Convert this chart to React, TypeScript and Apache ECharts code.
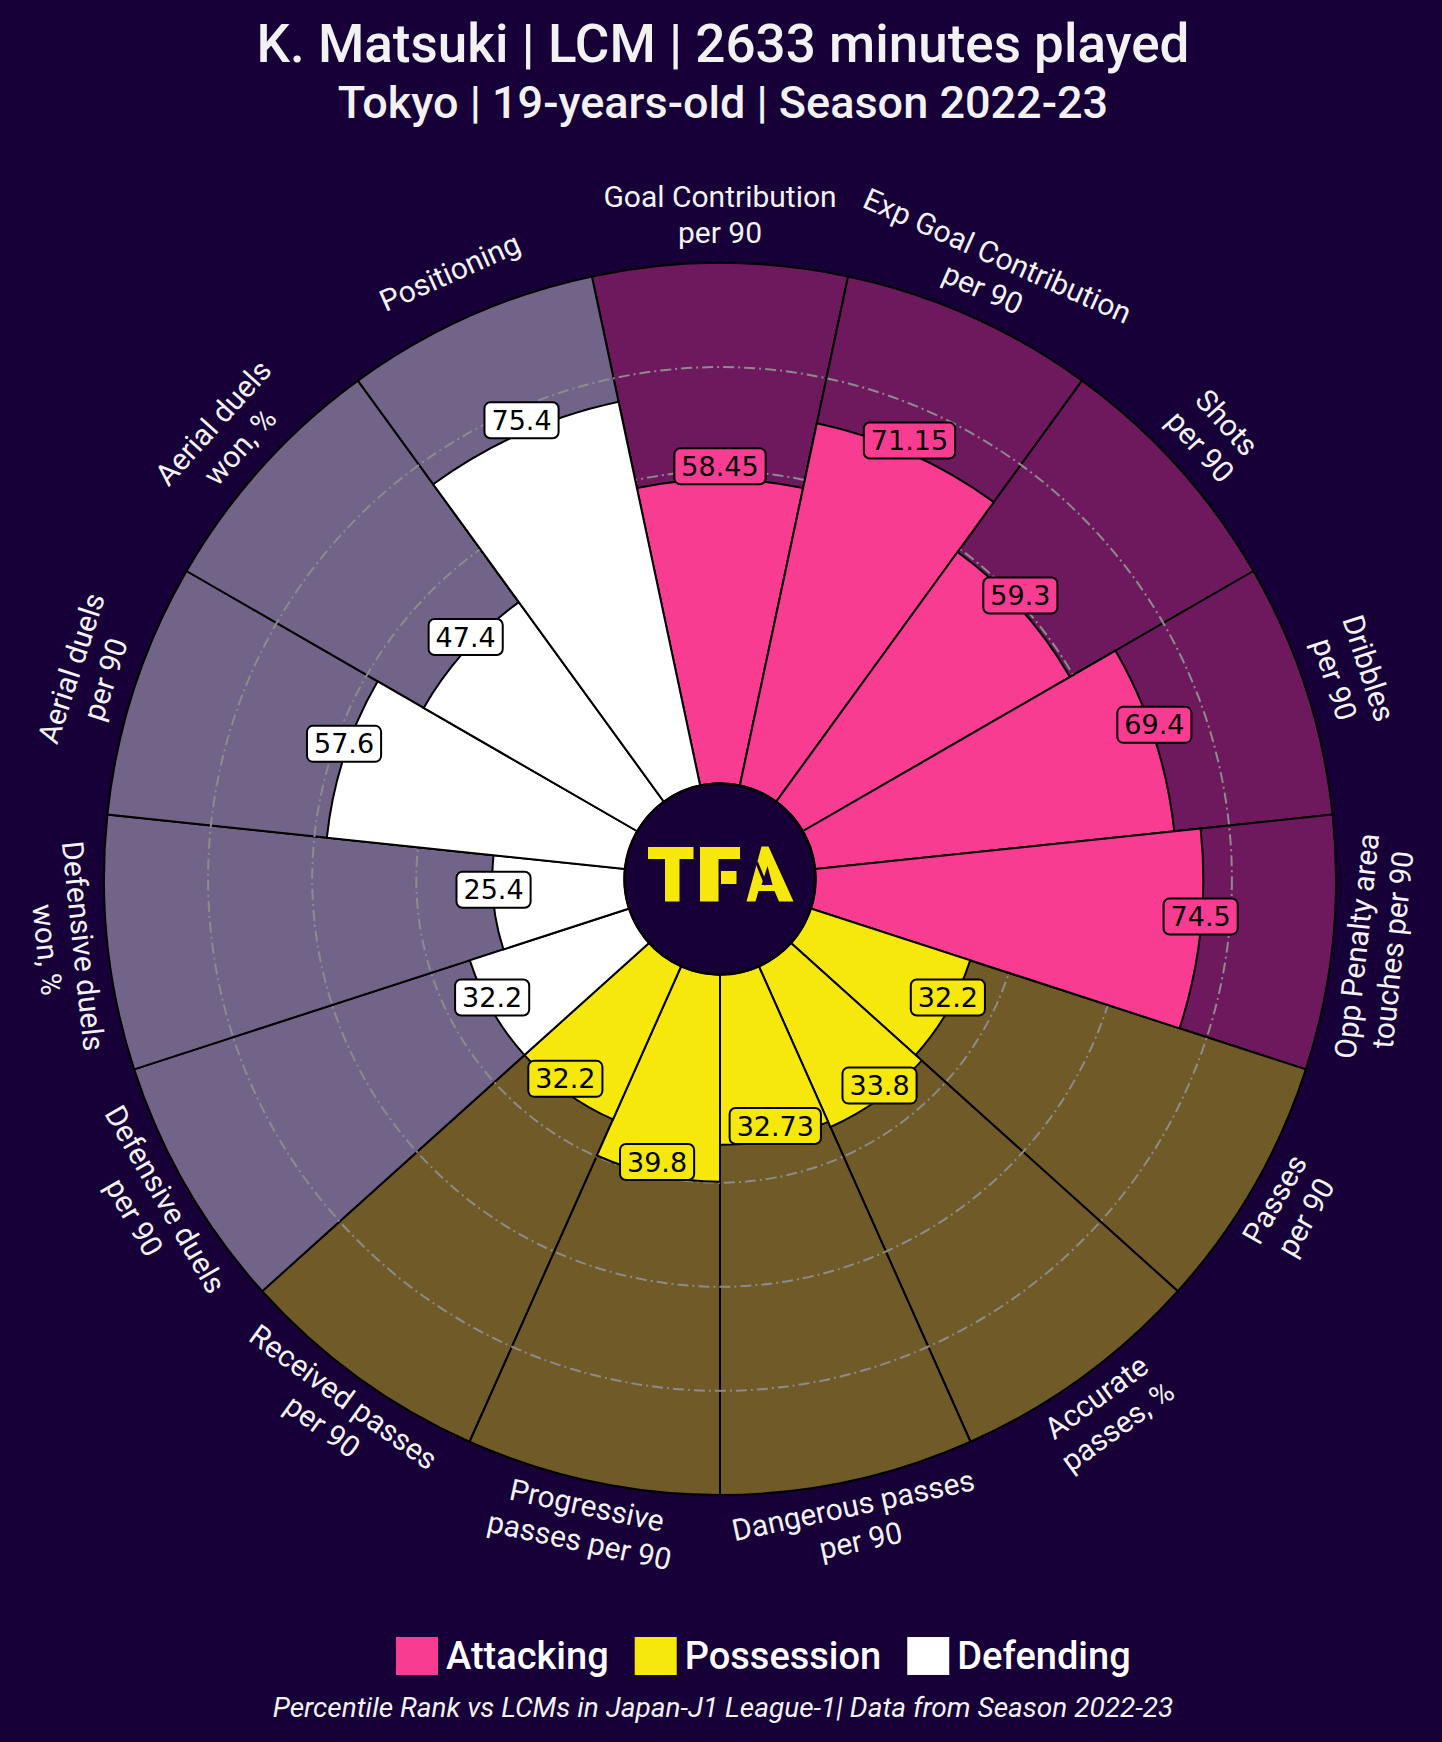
import React, { useEffect, useRef } from 'react';
import * as echarts from 'echarts';

// ---- data ----
const params: string[] = [
  'Goal Contribution\nper 90',
  'Exp Goal Contribution\nper 90',
  'Shots\nper 90',
  'Dribbles\nper 90',
  'Opp Penalty area\ntouches per 90',
  'Passes\nper 90',
  'Accurate\npasses, %',
  'Dangerous passes\nper 90',
  'Progressive\npasses per 90',
  'Received passes\nper 90',
  'Defensive duels\nper 90',
  'Defensive duels\nwon, %',
  'Aerial duels\nper 90',
  'Aerial duels\nwon, %',
  'Positioning',
];
const values: number[] = [58.45, 71.15, 59.3, 69.4, 74.5, 32.2, 33.8, 32.73, 39.8, 32.2, 32.2, 25.4, 57.6, 47.4, 75.4];
const groups: string[] = [
  'Attacking', 'Attacking', 'Attacking', 'Attacking', 'Attacking',
  'Possession', 'Possession', 'Possession', 'Possession', 'Possession',
  'Defending', 'Defending', 'Defending', 'Defending', 'Defending',
];
const groupNames: string[] = ['Attacking', 'Possession', 'Defending'];
const gridLevels: number[] = [20, 40, 60, 80];
const maxValue = 100;

const titleText = 'K. Matsuki | LCM | 2633 minutes played';
const subtitleText = 'Tokyo | 19-years-old | Season 2022-23';
const footerText = 'Percentile Rank vs LCMs in Japan-J1 League-1| Data from Season 2022-23';

// ---- styles ----
const BG = '#170038';
const YELLOW = '#F5E80A';
const barColors: Record<string, string> = { Attacking: '#F83C92', Possession: YELLOW, Defending: '#FFFFFF' };
const slotColors: Record<string, string> = { Attacking: '#6E195E', Possession: '#6F5A28', Defending: '#716488' };
const TEXT = '#F2F2F2';

const W = 1442;
const H = 1742;
const CX = 720;
const CY = 879;
const R_IN = 95.5;
const R_OUT = 616;
const N = params.length;
const STEP = 360 / N;

function labelRotation(i: number): number {
  let theta = 90 - STEP * i;
  while (theta <= -180) theta += 360;
  while (theta > 180) theta -= 360;
  return theta >= 0 ? theta - 90 : theta + 90;
}

// TFA logo pieces (decoration), relative to the logo origin
const LX = 648;
const LY = 847;
function logoElements(): any[] {
  const fill = { fill: YELLOW };
  const rect = (x: number, y: number, w: number, h: number) => ({
    type: 'rect', z: 101, shape: { x: LX + x, y: LY + y, width: w, height: h }, style: fill,
  });
  const poly = (pts: number[][], color: string, z = 101) => ({
    type: 'polygon', z, shape: { points: pts.map(([x, y]) => [LX + x, LY + y]) }, style: { fill: color },
  });
  return [
    // T
    rect(0, 0, 45.5, 12),
    rect(17, 12, 14.5, 42.5),
    // F
    rect(52, 0, 40, 12),
    rect(52, 12, 18.5, 42.5),
    rect(73, 24, 15.5, 13),
    // A
    poly([[98.5, 54.5], [113.5, -0.5], [120.5, -0.5], [145.5, 54.5], [131, 54.5], [126.5, 44], [110.5, 44], [107.5, 54.5]], YELLOW),
    poly([[119.5, 19], [113.5, 38], [124.5, 38]], BG, 102),
    {
      type: 'line', z: 102,
      shape: { x1: LX + 108.5, y1: LY + 15, x2: LX + 118, y2: LY + 38 },
      style: { stroke: BG, lineWidth: 3 },
    },
  ];
}

export default function App() {
  const ref = useRef<HTMLDivElement>(null);

  useEffect(() => {
    document.body.style.margin = '0';
    document.body.style.background = BG;
    if (!ref.current) return;
    const chart = echarts.init(ref.current, undefined, { renderer: 'svg' });

    const textEl = (text: string, y: number, size: number, extra: any = {}) => ({
      type: 'text',
      z: 101,
      x: W / 2 + 2,
      y,
      style: {
        text,
        fill: TEXT,
        fontFamily: 'Roboto',
        fontSize: size,
        align: 'center',
        verticalAlign: 'middle',
        textAlign: 'center',
        textVerticalAlign: 'middle',
        ...extra,
      },
    });

    const option: any = {
      animation: false,
      backgroundColor: BG,
      polar: { center: [CX, CY], radius: [R_IN, R_OUT] },
      angleAxis: {
        type: 'category',
        data: params,
        startAngle: 90 + STEP / 2,
        clockwise: true,
        boundaryGap: true,
        axisLine: { show: false },
        axisTick: { show: false },
        axisLabel: { show: false },
        splitLine: { show: false },
      },
      radiusAxis: {
        type: 'value',
        min: 0,
        max: maxValue,
        axisLine: { show: false },
        axisTick: { show: false },
        axisLabel: { show: false },
        splitLine: { show: false },
      },
      legend: {
        data: groupNames,
        left: 391,
        top: 1632,
        icon: 'rect',
        itemWidth: 42,
        itemHeight: 38,
        itemGap: 26,
        itemStyle: { borderWidth: 0 },
        textStyle: { color: '#FFFFFF', fontSize: 38, fontFamily: 'Roboto', fontWeight: 500, padding: [0, 0, 0, 3] },
      },
      series: [
        {
          type: 'bar',
          name: 'slots',
          coordinateSystem: 'polar',
          z: 1,
          silent: true,
          barGap: '-100%',
          barCategoryGap: '0%',
          data: params.map((_, i) => ({ value: maxValue, itemStyle: { color: slotColors[groups[i]] } })),
          itemStyle: { borderColor: '#000000', borderWidth: 2 },
        },
        {
          type: 'custom',
          name: 'grid',
          coordinateSystem: 'polar',
          z: 2,
          silent: true,
          data: gridLevels.map((v) => [v, 0]),
          renderItem: (p: any, api: any) => {
            const cs = p.coordSys;
            const pt = api.coord([api.value(0), 0]);
            const r = Math.hypot(pt[0] - cs.cx, pt[1] - cs.cy);
            return {
              type: 'circle',
              shape: { cx: cs.cx, cy: cs.cy, r },
              style: { fill: 'none', stroke: '#8C8C8C', lineWidth: 2, lineDash: [11, 4, 2, 4] },
            };
          },
        },
        ...groupNames.map((g) => ({
          type: 'bar',
          name: g,
          coordinateSystem: 'polar',
          stack: 'values',
          z: 3,
          barGap: '-100%',
          barCategoryGap: '0%',
          data: values.map((v, i) => (groups[i] === g ? v : '-')),
          itemStyle: { color: barColors[g], borderColor: '#000000', borderWidth: 2 },
        })),
        {
          type: 'scatter',
          name: 'valueLabels',
          coordinateSystem: 'polar',
          z: 5,
          silent: true,
          clip: false,
          symbolSize: 0,
          itemStyle: { opacity: 1 },
          data: values.map((v, i) => ({
            value: [v, i],
            label: { backgroundColor: barColors[groups[i]] },
          })),
          label: {
            show: true,
            position: 'inside',
            offset: [0, -13],
            formatter: (p: any) => String(p.value[0]),
            color: '#000000',
            opacity: 1,
            fontFamily: 'DejaVu Sans',
            fontSize: 27,
            lineHeight: 29,
            borderColor: '#000000',
            borderWidth: 2,
            borderRadius: 5,
            padding: [3, 6, 2, 6],
          },
        },
        {
          type: 'scatter',
          name: 'paramLabels',
          coordinateSystem: 'polar',
          z: 5,
          silent: true,
          clip: false,
          symbolSize: 0,
          itemStyle: { opacity: 1 },
          data: params.map((_, i) => ({
            value: [108.7, i],
            label: { rotate: labelRotation(i) },
          })),
          label: {
            show: true,
            position: 'inside',
            offset: [0, -3],
            formatter: (p: any) => params[p.dataIndex],
            color: TEXT,
            opacity: 1,
            fontFamily: 'Roboto',
            fontSize: 30,
            lineHeight: 36,
            align: 'center',
            verticalAlign: 'middle',
          },
        },
      ],
      graphic: [
        {
          type: 'circle',
          z: 100,
          shape: { cx: CX, cy: CY, r: R_IN },
          style: { fill: BG, stroke: '#000000', lineWidth: 2.5 },
        },
        ...logoElements(),
        textEl(titleText, 44, 53, { fontWeight: 500 }),
        textEl(subtitleText, 102, 45, { fontWeight: 500 }),
        textEl(footerText, 1707, 28, { fontStyle: 'italic' }),
      ],
    };

    chart.setOption(option);
    return () => chart.dispose();
  }, []);

  return <div ref={ref} style={{ width: W, height: H, background: BG }} />;
}
